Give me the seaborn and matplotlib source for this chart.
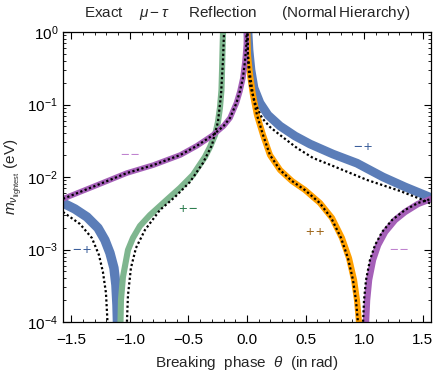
import numpy as np
import matplotlib
matplotlib.use("Agg")
import matplotlib.pyplot as plt
import matplotlib.ticker as mticker
import seaborn as sns

# values (x in rad, y in eV)
purple_l_x = [-1.571, -1.30, -1.025, -0.80, -0.57, -0.43, -0.29, -0.20, -0.145, -0.09, -0.06, -0.035, -0.017, -0.006, 0.0]
purple_l_y = [5.0e-3, 7.5e-3, 1.135e-2, 1.46e-2, 2.01e-2, 2.68e-2, 3.79e-2, 5.05e-2, 6.52e-2, 0.105, 0.153, 0.232, 0.398, 0.66, 2.0]

purple_r_x = [1.012, 1.016, 1.025, 1.042, 1.076, 1.119, 1.179, 1.264, 1.349, 1.460, 1.571]
purple_r_y = [4.8e-5, 1.0e-4, 2.0e-4, 3.8e-4, 7.2e-4, 1.15e-3, 1.74e-3, 2.55e-3, 3.29e-3, 4.25e-3, 4.98e-3]
dot_purple_r_x = [0.986, 0.991, 0.999, 1.016, 1.050, 1.093, 1.153, 1.238, 1.349, 1.460, 1.571]
dot_purple_r_y = [4.8e-5, 1.0e-4, 2.0e-4, 3.8e-4, 7.2e-4, 1.15e-3, 1.74e-3, 2.55e-3, 3.51e-3, 4.38e-3, 4.98e-3]

green_x = [-1.089, -1.080, -1.076, -1.059, -1.016, -0.974, -0.914, -0.828, -0.743, -0.658, -0.572, -0.461,
           -0.359, -0.316, -0.273, -0.248, -0.231, -0.218, -0.213, -0.205, -0.202]
green_y = [4.8e-5, 1.0e-4, 2.0e-4, 4.17e-4, 9.84e-4, 1.44e-3, 2.11e-3, 2.99e-3, 3.98e-3, 5.30e-3, 7.05e-3, 1.07e-2,
           1.89e-2, 2.59e-2, 3.79e-2, 5.74e-2, 8.95e-2, 0.158, 0.299, 1.0, 2.0]
dot_green_x = [-1.029, -1.025, -1.016, -0.991, -0.948, -0.871, -0.743, -0.615, -0.487, -0.376, -0.299, -0.248, -0.222, -0.205, -0.196, -0.195]
dot_green_y = [4.8e-5, 1.0e-4, 2.35e-4, 5.56e-4, 1.05e-3, 1.86e-3, 3.51e-3, 5.30e-3, 8.53e-3, 1.56e-2, 2.76e-2, 5.74e-2, 0.135, 0.411, 1.0, 2.0]

blue_l_x = [-1.571, -1.469, -1.366, -1.272, -1.213, -1.170, -1.136, -1.119, -1.110, -1.106, -1.103]
blue_l_y = [4.38e-3, 3.62e-3, 2.81e-3, 1.98e-3, 1.35e-3, 8.95e-4, 5.56e-4, 3.24e-4, 1.71e-4, 1.0e-4, 4.8e-5]
dot_blue_l_x = [-1.571, -1.426, -1.324, -1.264, -1.230, -1.204, -1.191, -1.187]
dot_blue_l_y = [3.29e-3, 2.25e-3, 1.44e-3, 8.4e-4, 4.9e-4, 2.51e-4, 1.0e-4, 4.8e-5]

blue_r_x = [0.004, 0.0085, 0.017, 0.034, 0.060, 0.111, 0.179, 0.282, 0.410, 0.538, 0.734, 0.939, 1.161, 1.349, 1.571]
blue_r_y = [2.0, 1.0, 0.565, 0.299, 0.169, 0.105, 7.16e-2, 5.05e-2, 3.68e-2, 2.85e-2, 2.07e-2, 1.55e-2, 1.0e-2, 7.3e-3, 5.2e-3]
dot_blue_r_x = [0.0, 0.004, 0.0085, 0.026, 0.068, 0.128, 0.196, 0.282, 0.427, 0.564, 0.734, 1.025, 1.307, 1.503, 1.571]
dot_blue_r_y = [2.0, 1.0, 0.411, 0.186, 0.105, 6.52e-2, 4.9e-2, 3.79e-2, 2.51e-2, 1.83e-2, 1.42e-2, 9.1e-3, 6.41e-3, 4.82e-3, 4.25e-3]

orange_x = [0.0, 0.0026, 0.0085, 0.026, 0.051, 0.085, 0.137, 0.196, 0.282, 0.384, 0.495, 0.623, 0.726, 0.811, 0.871, 0.914, 0.939, 0.956, 0.965]
orange_y = [2.0, 1.0, 0.482, 0.255, 0.135, 7.16e-2, 3.79e-2, 2.01e-2, 1.25e-2, 8.8e-3, 6.62e-3, 4.38e-3, 2.72e-3, 1.44e-3, 7.6e-4, 3.8e-4, 2.0e-4, 1.0e-4, 4.8e-5]
dot_orange_x = [0.0, 0.0026, 0.0085, 0.026, 0.051, 0.085, 0.137, 0.196, 0.282, 0.384, 0.495, 0.620, 0.720, 0.803, 0.862, 0.905, 0.930, 0.947, 0.955]
dot_orange_y = [2.0, 1.0, 0.48, 0.255, 0.135, 7.16e-2, 3.79e-2, 2.01e-2, 1.25e-2, 8.8e-3, 6.6e-3, 4.4e-3, 2.7e-3, 1.44e-3, 7.6e-4, 3.8e-4, 2.0e-4, 1.0e-4, 4.8e-5]

# sign labels: text, x, y, colour
sign_labels = [("\u2212\u200a\u2212", -1.0, 2.0e-2, "#bf82cf"),
               ("+\u200a\u2212", -0.50, 3.6e-3, "#2f7f50"),
               ("\u2212\u200a+", -1.41, 1.0e-3, "#3b5e9b"),
               ("\u2212\u200a+", 0.99, 2.6e-2, "#3b5e9b"),
               ("+\u200a+", 0.58, 1.75e-3, "#a0681c"),
               ("\u2212\u200a\u2212", 1.30, 1.0e-3, "#bf82cf")]

sns.set_theme(style="ticks")
plt.rcParams["font.family"] = ["Liberation Sans", "DejaVu Sans"]
plt.rcParams["mathtext.fontset"] = "custom"
plt.rcParams["mathtext.rm"] = "Liberation Sans"
plt.rcParams["mathtext.it"] = "Liberation Sans:italic"
plt.rcParams["font.size"] = 11

fig = plt.figure(figsize=(4.36, 3.82), dpi=100)
ax = fig.add_axes([63 / 436, 60 / 382, 368 / 436, 290 / 382])

blue = "#5b7db8"
green = "#7fb68f"
orange = "#ffa000"
purple = "#a560b8"

bands = [(blue_l_x, blue_l_y, blue, 6.8),
         (blue_r_x, blue_r_y, blue, 6.3),
         (green_x, green_y, green, 4.4),
         (orange_x, orange_y, orange, 4.4),
         (purple_l_x, purple_l_y, purple, 4.0),
         (purple_r_x, purple_r_y, purple, 4.6)]
for xs, ys, c, w in bands:
    sns.lineplot(x=xs, y=ys, sort=False, estimator=None, color=c, lw=w, ax=ax)

dots = [(dot_blue_l_x, dot_blue_l_y), (dot_blue_r_x, dot_blue_r_y),
        (dot_green_x, dot_green_y), (dot_orange_x, dot_orange_y),
        (purple_l_x, purple_l_y), (dot_purple_r_x, dot_purple_r_y)]
for xs, ys in dots:
    sns.lineplot(x=xs, y=ys, sort=False, estimator=None, color="black",
                 lw=1.6, linestyle=(0, (1, 1.1)), ax=ax)

for txt, x, y, c in sign_labels:
    ax.text(x, y, txt, color=c, fontsize=10.5, ha="center", va="center")

ax.set_yscale("log")
ax.set_xlim(-np.pi / 2, np.pi / 2)
ax.set_ylim(1e-4, 1)
ax.xaxis.set_major_locator(mticker.MultipleLocator(0.5))
ax.xaxis.set_minor_locator(mticker.MultipleLocator(0.1))
ax.xaxis.set_major_formatter(mticker.FuncFormatter(lambda v, p: f"{v:.1f}".replace("-", "\u2212")))
ax.yaxis.set_major_locator(mticker.LogLocator(base=10, numticks=10))
ax.yaxis.set_minor_locator(mticker.LogLocator(base=10, subs=np.arange(2, 10), numticks=10))
ax.yaxis.set_minor_formatter(mticker.NullFormatter())
ax.tick_params(which="both", direction="in", top=True, right=True, colors="black", labelsize=11)
ax.tick_params(which="major", length=5, width=0.8)
ax.tick_params(which="minor", length=2.5, width=0.6)
ax.tick_params(axis="x", which="major", pad=8)
for s in ax.spines.values():
    s.set_color("black")
    s.set_linewidth(0.9)

ax.set_xlabel("Breaking  phase  $\\theta$  (in\u2009rad)", fontsize=11, labelpad=5)
ax.set_ylabel("$m_{\\nu_{\\rm lightest}}$ (eV)", fontsize=11, labelpad=2)
fig.text(247 / 436, 1 - 13 / 382,
         "Exact    $\\mu - \\tau$     Reflection      (Normal\u2009Hierarchy)",
         ha="center", va="center", fontsize=11)

fig.savefig("out.png", dpi=100)
